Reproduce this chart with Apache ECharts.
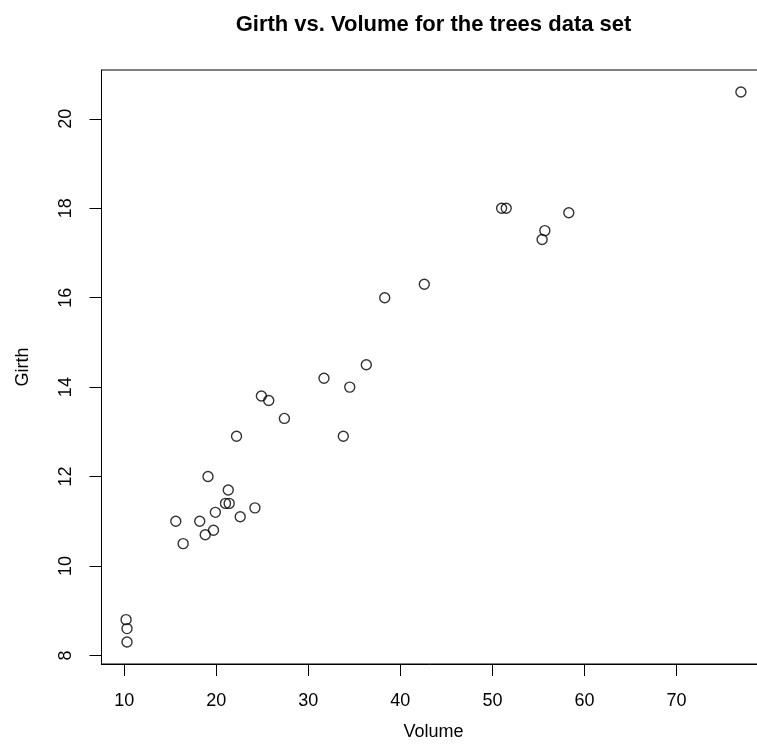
<!DOCTYPE html>
<html>
<head>
<meta charset="utf-8">
<script src="https://cdn.jsdelivr.net/npm/echarts@6/dist/echarts.min.js"></script>
<style>html,body{margin:0;padding:0;background:#fff}#c{width:757px;height:755px}</style>
</head>
<body>
<div id="c"></div>
<script>
// trees data set: Volume (x) and Girth (y)
const volume = [10.3,10.3,10.2,16.4,18.8,19.7,15.6,18.2,22.6,19.9,24.2,21.0,21.4,21.3,19.1,22.2,33.8,27.4,25.7,24.9,34.5,31.7,36.3,38.3,42.6,55.4,55.7,58.3,51.5,51.0,77.0];
const girth  = [8.3,8.6,8.8,10.5,10.7,10.8,11.0,11.0,11.1,11.2,11.3,11.4,11.4,11.7,12.0,12.9,12.9,13.3,13.7,13.8,14.0,14.2,14.5,16.0,16.3,17.3,17.5,17.9,18.0,18.0,20.6];
const xTicks = [10,20,30,40,50,60,70];
const yTicks = [8,10,12,14,16,18,20];
const titleText = 'Girth vs. Volume for the trees data set';
const xName = 'Volume';
const yName = 'Girth';

function pad(arr){const lo=Math.min(...arr),hi=Math.max(...arr),d=(hi-lo)*0.04;return [lo-d,hi+d];}
const xr = pad(volume), yr = pad(girth);
const pts = volume.map((v,i)=>[v,girth[i]]);
const font = 'Liberation Sans, Arial, sans-serif';
const G = {left:101.5, top:70, width:664, height:594};

const chart = echarts.init(document.getElementById('c'), null, {renderer:'canvas'});
chart.setOption({
  animation:false,
  backgroundColor:'#fff',
  graphic:[{type:'text',x:G.left+G.width/2,y:25,style:{text:titleText,textAlign:'center',textVerticalAlign:'middle',
    fontFamily:font,fontSize:22,fontWeight:'bold',fill:'#000'}}],
  grid:{show:true,left:G.left,top:G.top,width:G.width,height:G.height,outerBoundsMode:'none',containLabel:false,
    borderColor:'#000',borderWidth:1,backgroundColor:'transparent'},
  xAxis:{type:'value',min:xr[0],max:xr[1],
    name:xName,nameLocation:'middle',nameGap:59,nameTextStyle:{fontFamily:font,fontSize:18,color:'#000'},
    axisLine:{show:true,lineStyle:{color:'#000',width:1}},
    axisTick:{show:true,length:12,inside:false,customValues:xTicks,lineStyle:{color:'#000'}},
    axisLabel:{customValues:xTicks,margin:28,fontFamily:font,fontSize:18,color:'#000'},
    splitLine:{show:false}},
  yAxis:{type:'value',min:yr[0],max:yr[1],
    name:yName,nameLocation:'middle',nameGap:69,nameRotate:90,nameTextStyle:{fontFamily:font,fontSize:18,color:'#000'},
    axisLine:{show:true,lineStyle:{color:'#000',width:1}},
    axisTick:{show:true,length:12,inside:false,customValues:yTicks,lineStyle:{color:'#000'}},
    axisLabel:{customValues:yTicks,rotate:90,margin:26,fontFamily:font,fontSize:18,color:'#000'},
    splitLine:{show:false}},
  series:[{type:'scatter',data:pts,symbol:'circle',symbolSize:10,
    itemStyle:{color:'transparent',borderColor:'#000',borderWidth:1.4},emphasis:{disabled:true}}]
});
</script>
</body>
</html>
